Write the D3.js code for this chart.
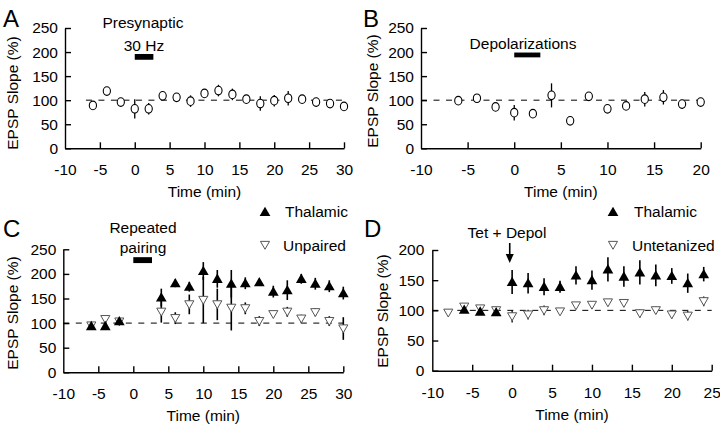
<!DOCTYPE html>
<html><head><meta charset="utf-8">
<script src="https://cdn.jsdelivr.net/npm/d3@7"></script>
<style>body{margin:0;background:#fff}svg{display:block;font-family:"Liberation Sans",Arial,sans-serif}</style>
</head><body><svg id="c" width="720" height="430"></svg>
<script>
// ---- Data ----
const timeA = [-6,-4,-2,0,2,4,6,8,10,12,14,16,18,20,22,24,26,28,30];
const valA  = [89,119,96,82,82,109,106,98,114,120,112,102,93,99,104,102,96,93,87];
const errA  = [5,5,5,20,12,4,5,12,8,12,12,7,15,12,15,8,4,7,6];

const timeB = [-6,-4,-2,0,2,4,6,8,10,12,14,16,18,20];
const valB  = [99,104,86,74,72,110,57,108,82,88,102,106,92,96];
const errB  = [4,6,4,16,4,25,8,4,5,6,15,15,9,7];

const timeC = [-6,-4,-2,4,6,8,10,12,14,16,18,20,22,24,26,28,30];
const thalC = [94,94,104,152,181,174,206,190,180,181,183,164,167,190,180,175,161];
const thalCErr = [6,6,5,18,8,10,18,18,28,12,7,12,20,10,12,12,13];
const unpC  = [95,108,103,123,110,138,147,138,131,130,104,118,123,109,122,104,89];
const unpCErr = [4,5,4,22,12,20,47,32,46,12,10,5,10,8,8,10,23];

const timeD = [-6,-4,-2,0,2,4,6,8,10,12,14,16,18,20,22,24];
const thalD = [101,98,97,147,145,139,139,158,150,168,156,163,158,157,145,160];
const thalDErr = [4,3,3,20,17,14,10,15,16,20,17,20,18,13,16,12];
const timeD2 = [-8,-6,-4,-2,0,2,4,6,8,10,12,14,16,18,20,22,24];
const untD  = [96,106,103,100,90,93,100,98,108,109,113,112,95,100,93,91,115];
const untDErr = [3,4,3,3,10,8,8,4,5,6,5,6,7,6,6,8,8];

const xTicksA = [-10,-5,0,5,10,15,20,25,30];
const xTicksB = [-10,-5,0,5,10,15,20];
const xTicksD = [-10,-5,0,5,10,15,20,25];
const yTicks250 = [0,50,100,150,200,250];
const yTicks200 = [0,50,100,150,200];

const svg = d3.select("#c");
const FS = 15.5;

function panel(o){
  const g = svg.append("g");
  const x = d3.scaleLinear().domain(o.xd).range([o.x0,o.x1]);
  const y = d3.scaleLinear().domain(o.yd).range([o.y0,o.y1]);
  const xa = d3.axisBottom(x).tickValues(o.xt).tickSizeInner(-6).tickSizeOuter(0).tickPadding(16).tickFormat(d=>String(d));
  const gx = g.append("g").attr("transform",`translate(0,${o.y0})`).call(xa);
  const ya = d3.axisLeft(y).tickValues(o.yt).tickSizeInner(-6).tickSizeOuter(0).tickPadding(o.ypad||7).tickFormat(d=>String(d));
  const gy = g.append("g").attr("transform",`translate(${o.x0},0)`).call(ya);
  [gx,gy].forEach(a=>{
    a.selectAll("path,line").attr("stroke","#000").attr("stroke-width",1.4);
    a.selectAll("text").attr("font-size",FS).attr("fill","#000").attr("font-family","Liberation Sans, Arial, sans-serif");
  });
  gx.selectAll(".tick").filter(d=>d===o.xd[0]).select("line").remove();
  g.append("text").attr("x",(o.x0+o.x1)/2).attr("y",o.y0+49).attr("text-anchor","middle").attr("font-size",FS).text("Time (min)");
  g.append("text").attr("transform",`translate(${o.ylx},${o.yly}) rotate(-90)`).attr("text-anchor","middle").attr("dominant-baseline","central").attr("font-size",FS).text("EPSP Slope (%)");
  g.append("text").attr("x",o.lx).attr("y",o.ly).attr("font-size",24).text(o.letter);
  g.append("line").attr("x1",x(o.dashFrom)).attr("x2",x(o.dashTo)).attr("y1",y(100)).attr("y2",y(100))
    .attr("stroke","#000").attr("stroke-width",1).attr("stroke-dasharray","6,6.5");
  if(o.bar){
    g.append("rect").attr("x",x(o.bar[0])).attr("width",x(o.bar[1])-x(o.bar[0]))
      .attr("y",y(o.bar[3])).attr("height",y(o.bar[2])-y(o.bar[3])).attr("fill","#000");
  }
  return {g,x,y};
}

function errbars(p,t,v,e,w){
  p.g.append("g").selectAll("line").data(t).join("line")
    .attr("x1",(d)=>p.x(d)).attr("x2",(d)=>p.x(d))
    .attr("y1",(d,i)=>p.y(v[i]-e[i])).attr("y2",(d,i)=>p.y(v[i]+e[i]))
    .attr("stroke","#000").attr("stroke-width",w);
}
function circles(p,t,v){
  p.g.append("g").selectAll("ellipse").data(t).join("ellipse")
    .attr("cx",d=>p.x(d)).attr("cy",(d,i)=>p.y(v[i])).attr("rx",3.6).attr("ry",4.3)
    .attr("fill","#fff").attr("stroke","#000").attr("stroke-width",1.1);
}
const triUp = d3.symbol().type(d3.symbolTriangle).size(50);
const triDn = d3.symbol().type(d3.symbolTriangle).size(36);
function upTris(p,t,v){
  p.g.append("g").selectAll("path").data(t).join("path")
    .attr("d",triUp).attr("transform",(d,i)=>`translate(${p.x(d)},${p.y(v[i])+1})`).attr("fill","#000");
}
function downTris(p,t,v){
  p.g.append("g").selectAll("path").data(t).join("path")
    .attr("d",triDn).attr("transform",(d,i)=>`translate(${p.x(d)},${p.y(v[i])-1}) rotate(180)`)
    .attr("fill","#fff").attr("stroke","#555").attr("stroke-width",1);
}

// ---- Panel A ----
const pA = panel({letter:"A",lx:3,ly:27,xd:[-10,30],x0:65,x1:344,yd:[0,250],y0:148.3,y1:28,xt:xTicksA,yt:yTicks250,ylx:12,yly:93,dashFrom:-7,dashTo:30,bar:[0,2.67,184,196]});
errbars(pA,timeA,valA,errA,1.3); circles(pA,timeA,valA);
pA.g.append("text").attr("x",143).attr("y",28).attr("text-anchor","middle").attr("font-size",FS).text("Presynaptic");
pA.g.append("text").attr("x",144).attr("y",51).attr("text-anchor","middle").attr("font-size",FS).text("30 Hz");

// ---- Panel B ----
const pB = panel({letter:"B",lx:363,ly:27,xd:[-10,20],x0:421,x1:700.7,yd:[0,250],y0:148.3,y1:28,xt:xTicksB,yt:yTicks250,ylx:372,yly:91,dashFrom:-10,dashTo:20,bar:[0,2.8,189,199]});
errbars(pB,timeB,valB,errB,1.3); circles(pB,timeB,valB);
pB.g.append("text").attr("x",523).attr("y",49).attr("text-anchor","middle").attr("font-size",FS).text("Depolarizations");

// ---- Panel C ----
const pC = panel({letter:"C",lx:3,ly:237,xd:[-10,30],x0:63.3,x1:343.3,yd:[0,250],y0:372.3,y1:249.3,xt:xTicksA,yt:yTicks250,ylx:12,yly:313,dashFrom:-10,dashTo:30,bar:[0,2.67,222,234]});
errbars(pC,timeC,unpC,unpCErr,1.6); errbars(pC,timeC,thalC,thalCErr,1.6);
downTris(pC,timeC,unpC); upTris(pC,timeC,thalC);
pC.g.append("text").attr("x",143).attr("y",233).attr("text-anchor","middle").attr("font-size",FS).text("Repeated");
pC.g.append("text").attr("x",143).attr("y",253).attr("text-anchor","middle").attr("font-size",FS).text("pairing");
pC.g.append("path").attr("d",triUp).attr("transform","translate(265,213)").attr("fill","#000");
pC.g.append("text").attr("x",285).attr("y",217).attr("font-size",FS).text("Thalamic");
pC.g.append("path").attr("d",triDn).attr("transform","translate(265,244) rotate(180)").attr("fill","#fff").attr("stroke","#555");
pC.g.append("text").attr("x",283).attr("y",251).attr("font-size",FS).text("Unpaired");

// ---- Panel D ----
const pD = panel({letter:"D",lx:364,ly:237,xd:[-10,25],x0:432.3,x1:711.7,yd:[0,200],y0:370.7,y1:250,xt:xTicksD,yt:yTicks200,ylx:382,yly:311,ypad:8,dashFrom:-10,dashTo:25});
errbars(pD,timeD2,untD,untDErr,1.3); errbars(pD,timeD,thalD,thalDErr,1.6);
downTris(pD,timeD2,untD); upTris(pD,timeD,thalD);
pD.g.append("text").attr("x",507).attr("y",238).attr("text-anchor","middle").attr("font-size",FS).text("Tet + Depol");
const ax = pD.x(-0.3);
pD.g.append("line").attr("x1",ax).attr("x2",ax).attr("y1",243).attr("y2",256).attr("stroke","#000").attr("stroke-width",1.6);
pD.g.append("path").attr("d",`M${ax-4},254 L${ax+4},254 L${ax},263 Z`).attr("fill","#000");
pD.g.append("path").attr("d",triUp).attr("transform","translate(613,213)").attr("fill","#000");
pD.g.append("text").attr("x",634).attr("y",217).attr("font-size",FS).text("Thalamic");
pD.g.append("path").attr("d",triDn).attr("transform","translate(613,244) rotate(180)").attr("fill","#fff").attr("stroke","#555");
pD.g.append("text").attr("x",632).attr("y",251).attr("font-size",FS).text("Untetanized");
</script></body></html>
